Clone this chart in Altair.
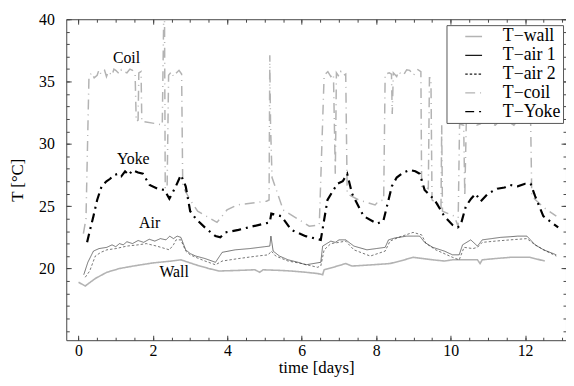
import altair as alt
import pandas as pd

FONT = "Liberation Serif"

series_names = ["T\u2212wall", "T\u2212air 1", "T\u2212air 2", "T\u2212coil", "T\u2212Yoke"]
series_colors = ["#b3b3b3", "#1a1a1a", "#1a1a1a", "#b3b3b3", "#000000"]
series_widths = [1.6, 0.6, 0.6, 1.5, 2.2]
series_dashes = [[1, 0], [1, 0], [2.5, 2], [10, 5, 1, 5], [9, 5, 2, 5]]

wall_day = [0.0, 0.18, 0.45, 0.76, 1.1, 1.47, 2.0, 2.5, 2.75, 2.95, 3.15, 3.5, 3.77, 4.3, 4.74, 4.87,
            4.96, 5.4, 5.72, 6.1, 6.42, 6.56, 6.6, 6.9, 7.18, 7.35, 7.9, 8.37, 8.7, 8.99, 9.25, 9.52,
            9.83, 10.05, 10.4, 10.72, 10.79, 10.85, 11.2, 11.6, 12.13, 12.53]
wall_T = [18.9, 18.6, 19.2, 19.7, 20.0, 20.2, 20.45, 20.6, 20.7, 20.5, 20.3, 20.0, 19.8, 19.85, 19.9, 19.7,
          19.9, 19.85, 19.8, 19.7, 19.6, 19.5, 19.9, 20.15, 20.4, 20.2, 20.3, 20.4, 20.65, 20.9, 20.8, 20.7,
          20.6, 20.7, 20.7, 20.7, 20.4, 20.7, 20.8, 20.9, 20.9, 20.6]

air1_day = [0.14, 0.25, 0.4, 0.55, 0.76, 0.9, 1.0, 1.1, 1.2, 1.3, 1.45, 1.6, 1.75, 1.9, 2.05, 2.2, 2.35,
            2.45, 2.55, 2.65, 2.75, 2.88, 3.0, 3.15, 3.4, 3.68, 3.86, 4.21, 4.6, 5.0, 5.14, 5.17, 5.23,
            5.4, 5.63, 5.9, 6.11, 6.51, 6.56, 6.78, 6.9, 7.0, 7.18, 7.4, 7.75, 8.0, 8.24, 8.33, 8.5,
            8.82, 9.0, 9.17, 9.3, 9.52, 9.83, 10.05, 10.23, 10.32, 10.54, 10.72, 10.85, 11.1, 11.34,
            11.6, 11.8, 12.05, 12.27, 12.5, 12.84]
air1_T = [19.5, 20.5, 21.4, 21.6, 21.7, 21.9, 21.75, 22.0, 21.9, 22.15, 22.0, 22.25, 22.1, 22.35, 22.2,
          22.4, 22.3, 22.6, 22.4, 22.6, 22.5, 21.5, 21.2, 21.0, 20.8, 20.5, 21.3, 21.5, 21.6, 21.75,
          21.8, 22.6, 21.4, 21.0, 20.7, 20.5, 20.3, 20.5, 21.8, 22.2, 22.1, 22.3, 22.3, 21.8, 21.5,
          21.6, 21.7, 22.3, 22.45, 22.6, 22.6, 22.6, 22.1, 21.7, 21.4, 21.1, 21.1, 21.9, 22.3, 21.8,
          22.3, 22.4, 22.5, 22.55, 22.6, 22.6, 21.9, 21.5, 21.1]

air2_day = [0.18, 0.3, 0.45, 0.6, 0.76, 1.0, 1.3, 1.6, 1.82, 2.1, 2.44, 2.55, 2.62, 2.75, 2.88, 3.0,
            3.15, 3.4, 3.68, 3.86, 4.3, 4.8, 5.1, 5.18, 5.3, 5.63, 6.0, 6.42, 6.51, 6.6, 6.78, 7.0,
            7.18, 7.4, 7.84, 8.24, 8.37, 8.6, 8.99, 9.22, 9.34, 9.6, 10.05, 10.23, 10.36, 10.6, 10.72,
            10.85, 11.2, 11.6, 12.05, 12.27, 12.5, 12.84]
air2_T = [19.3, 19.8, 21.0, 21.3, 21.5, 21.6, 21.8, 21.9, 22.0, 21.8, 21.5, 21.9, 22.3, 22.3, 21.4, 21.1,
          20.9, 20.6, 20.3, 20.6, 20.8, 21.0, 21.1, 21.4, 21.0, 20.6, 20.4, 20.1, 20.2, 21.5, 22.0, 22.1,
          22.2, 21.5, 21.0, 21.4, 22.2, 22.5, 22.9, 22.7, 22.0, 21.5, 20.9, 20.7, 21.7, 21.6, 21.7,
          22.1, 22.2, 22.3, 22.4, 21.9, 21.5, 21.0]

coil_day = [0.13, 0.2, 0.28, 0.35, 0.42, 0.5, 0.55, 0.6, 0.7, 0.75, 0.8, 0.9, 0.95, 1.0, 1.1, 1.15, 1.2,
            1.3, 1.38, 1.45, 1.52, 1.55, 1.6, 1.62, 1.68, 1.7, 2.13, 2.25, 2.29, 2.31, 2.33, 2.38,
            2.42, 2.5, 2.55, 2.6, 2.7, 2.77, 2.8, 3.0, 3.2, 3.72, 3.99, 4.26, 5.05, 5.12, 5.14, 5.16,
            5.2, 5.5, 6.2, 6.47, 6.6, 6.7, 6.78, 6.85, 6.9, 6.93, 7.0, 7.05, 7.12, 7.18, 7.22, 7.53,
            7.97, 8.06, 8.2, 8.24, 8.35, 8.41, 8.43, 8.46, 8.55, 8.6, 8.7, 8.75, 8.82, 8.9, 9.0, 9.05,
            9.12, 9.2, 9.22, 9.4, 9.43, 9.47, 9.5, 9.65, 9.74, 9.76, 9.78, 10.1, 10.2, 10.24, 10.35,
            10.38, 10.42, 10.6, 10.7, 10.8, 10.9, 11.0, 11.1, 11.2, 11.3, 11.4, 11.5, 11.6, 11.7, 11.8,
            11.9, 12.0, 12.1, 12.15, 12.18, 12.5, 12.84]
coil_T = [22.8, 24.0, 35.4, 35.7, 35.3, 35.5, 35.95, 35.6, 35.9, 35.4, 35.8, 35.5, 36.0, 35.9, 35.6,
          35.95, 35.8, 35.7, 36.0, 35.9, 35.6, 31.8, 31.9, 35.7, 35.8, 31.8, 31.6, 31.5, 40.5, 40.5,
          26.5, 26.4, 35.5, 35.8, 35.4, 35.6, 35.9, 35.6, 26.6, 25.5, 24.6, 23.7, 24.7, 25.1, 25.4,
          25.5, 37.1, 31.5, 27.3, 24.7, 23.4, 23.5, 35.5, 35.8, 35.4, 35.6, 27.6, 35.7, 35.4, 35.8,
          35.5, 35.6, 26.0, 25.5, 25.1, 25.4, 25.5, 35.6, 35.7, 35.6, 32.4, 35.7, 35.4, 35.8, 35.5,
          35.6, 35.95, 35.9, 35.5, 35.7, 35.95, 35.8, 26.6, 26.4, 35.3, 35.3, 25.5, 25.2, 24.8, 31.5,
          24.6, 24.2, 23.4, 31.6, 31.5, 25.8, 31.7, 31.8, 31.5, 31.6, 31.9, 31.9, 31.6, 31.5, 31.8,
          31.8, 32.0, 31.7, 31.5, 31.9, 31.7, 31.6, 31.9, 31.8, 25.8, 24.9, 24.2]

yoke_day = [0.23, 0.3, 0.4, 0.5, 0.62, 0.75, 0.85, 0.95, 1.07, 1.15, 1.25, 1.35, 1.45, 1.6, 1.73, 1.91,
            2.13, 2.31, 2.44, 2.6, 2.75, 2.88, 3.0, 3.15, 3.41, 3.68, 3.81, 3.95, 4.3, 4.7, 5.14, 5.18,
            5.45, 5.72, 6.1, 6.51, 6.69, 6.85, 6.96, 7.1, 7.22, 7.35, 7.66, 8.02, 8.19, 8.42, 8.55,
            8.73, 8.9, 9.05, 9.17, 9.3, 9.57, 9.83, 10.05, 10.19, 10.27, 10.41, 10.55, 10.67, 10.81,
            11.0, 11.25, 11.45, 11.6, 11.8, 12.0, 12.15, 12.27, 12.49, 12.89]
yoke_T = [22.1, 23.0, 24.2, 25.5, 26.6, 27.0, 27.2, 27.5, 27.6, 27.4, 27.8, 27.5, 27.9, 27.7, 27.6, 26.7,
          26.4, 26.3, 25.6, 26.5, 27.5, 26.6, 24.6, 24.0, 23.25, 22.6, 22.5, 22.9, 23.1, 23.4, 23.7,
          24.4, 24.2, 23.1, 22.6, 22.3, 25.5, 26.3, 26.8, 27.0, 27.6, 26.0, 24.2, 23.6, 23.8, 26.6,
          27.3, 27.7, 27.9, 27.8, 27.6, 26.3, 25.5, 24.2, 23.5, 23.3, 23.5, 25.0, 25.6, 26.0, 25.4,
          26.0, 26.4, 26.5, 26.7, 26.6, 26.8, 26.8, 25.8, 24.2, 23.3]

ann_text = ["Coil", "Yoke", "Air", "Wall"]
ann_day = [1.29, 1.47, 1.91, 2.57]
ann_T = [36.87, 28.8, 23.65, 19.68]

x_major = [0, 2, 4, 6, 8, 10, 12]
x_minor = [i * 0.5 for i in range(0, 27)]
y_major = [20, 25, 30, 35, 40]
y_minor = list(range(15, 41))

all_days = [wall_day, air1_day, air2_day, coil_day, yoke_day]
all_temps = [wall_T, air1_T, air2_T, coil_T, yoke_T]

rows = []
for name, days, temps in zip(series_names, all_days, all_temps):
    for i, (d, t) in enumerate(zip(days, temps)):
        rows.append({"series": name, "day": d, "T": t, "idx": i})
df = pd.DataFrame(rows)
ann_df = pd.DataFrame({"text": ann_text, "day": ann_day, "T": ann_T})

xscale = alt.Scale(domain=[-0.33, 13.1], nice=False, zero=False)
yscale = alt.Scale(domain=[14.25, 40], nice=False, zero=False)

TICK = "#444444"


def ax(orient, values, size, labels=False, title=None, **kw):
    return alt.Axis(orient=orient, values=values, offset=-size, tickSize=size, domain=False,
                    grid=False, labels=labels, title=title, tickColor=TICK, tickWidth=1,
                    labelFont=FONT, labelFontSize=16, labelColor="black", titleFont=FONT,
                    titleFontSize=17, titleFontWeight="normal", titleColor="black", **kw)


def axis_layer(xaxis, yaxis):
    return alt.Chart(df).mark_point(opacity=0).encode(
        x=alt.X("day:Q", scale=xscale, axis=xaxis),
        y=alt.Y("T:Q", scale=yscale, axis=yaxis),
    )


layer_a = axis_layer(ax("bottom", x_major, 5, labels=True, title="time [days]", labelPadding=2, titlePadding=2),
                     ax("left", y_major, 5, labels=True, title="T [°C]", labelPadding=12, titlePadding=12))
layer_b = axis_layer(ax("bottom", x_minor, 3), ax("left", y_minor, 3))
layer_c = axis_layer(ax("top", x_major, 5), ax("right", y_major, 5))
layer_d = axis_layer(ax("top", x_minor, 3), ax("right", y_minor, 3))

legend = alt.Legend(orient="none", legendX=385, legendY=6, title=None,
                    symbolType="stroke", symbolSize=289, labelFont=FONT,
                    labelFontSize=18, labelColor="black", padding=2,
                    symbolOffset=16, labelOffset=20, rowPadding=0,
                    symbolStrokeWidth=1.3,
                    strokeColor="#555555", fillColor="white", cornerRadius=0)

color_scale = alt.Scale(domain=series_names, range=series_colors)
dash_scale = alt.Scale(domain=series_names, range=series_dashes)

series_layers = []
for name, w in zip(series_names, series_widths):
    series_layers.append(
        alt.Chart(df[df["series"] == name]).mark_line(clip=True, strokeWidth=w).encode(
            x=alt.X("day:Q", scale=xscale, axis=None),
            y=alt.Y("T:Q", scale=yscale, axis=None),
            order=alt.Order("idx:Q"),
            color=alt.Color("series:N", scale=color_scale, legend=legend),
            strokeDash=alt.StrokeDash("series:N", scale=dash_scale, legend=legend),
        )
    )

labels = alt.Chart(ann_df).mark_text(font=FONT, fontSize=16, align="center", baseline="middle",
                                     color="black").encode(
    x=alt.X("day:Q", scale=xscale, axis=None),
    y=alt.Y("T:Q", scale=yscale, axis=None),
    text="text:N",
)

chart = alt.layer(layer_a, layer_b, layer_c, layer_d, *series_layers, labels).resolve_axis(
    x="independent", y="independent"
).properties(
    width=506, height=325,
    autosize=alt.AutoSizeParams(type="none"),
    padding={"left": 59, "top": 9, "right": 0, "bottom": 44},
).configure_view(stroke="#444444", strokeWidth=1).configure_axis(grid=False)

chart.save("out.html", embed_options={"renderer": "svg", "actions": False})
